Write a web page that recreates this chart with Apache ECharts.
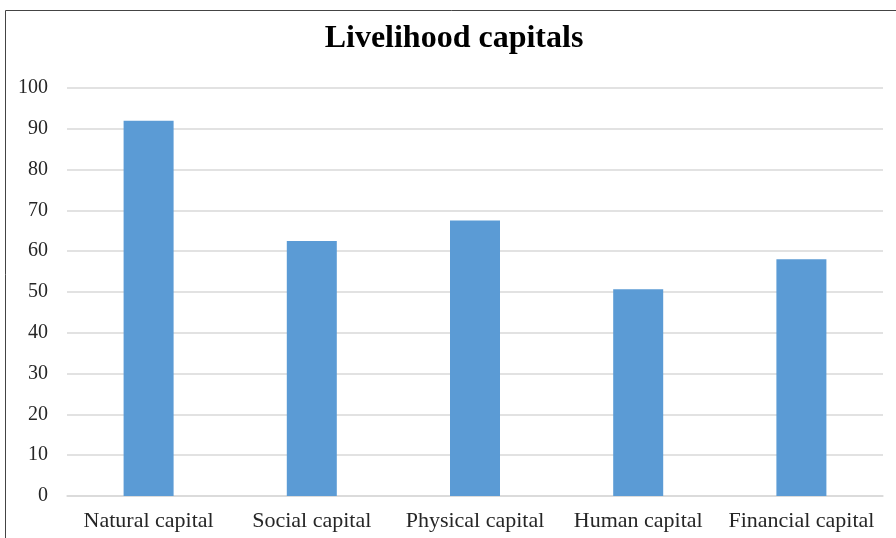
<!DOCTYPE html>
<html>
<head>
<meta charset="utf-8">
<script src="https://cdn.jsdelivr.net/npm/echarts@6/dist/echarts.min.js"></script>
<style>html,body{margin:0;padding:0;background:#fff;}#c{width:896px;height:538px;}</style>
</head>
<body>
<div id="c"></div>
<script>
var titleText = 'Livelihood capitals';
var categories = ['Natural capital', 'Social capital', 'Physical capital', 'Human capital', 'Financial capital'];
var values = [92, 62.5, 67.5, 50.7, 58];
var yMin = 0, yMax = 100, yInterval = 10;

var chart = echarts.init(document.getElementById('c'), null, {renderer: 'canvas'});
chart.setOption({
  animation: false,
  backgroundColor: '#fff',
  graphic: [{
    type: 'rect',
    shape: {x: 5.5, y: 10.5, width: 900, height: 600},
    style: {fill: 'none', stroke: '#444', lineWidth: 1},
    silent: true
  }],
  title: {
    text: titleText,
    left: 449,
    textAlign: 'center',
    top: 18,
    textStyle: {fontFamily: 'Liberation Serif', fontWeight: 'bold', fontSize: 32, color: '#000'}
  },
  grid: {left: 67, right: 13, top: 88, bottom: 42},
  xAxis: {
    type: 'category',
    data: categories,
    axisLine: {show: true, lineStyle: {color: '#d9d9d9', width: 1.5}},
    axisTick: {show: false},
    axisLabel: {fontFamily: 'Liberation Serif', fontSize: 22, color: '#262626', margin: 14, interval: 0}
  },
  yAxis: {
    type: 'value',
    min: yMin, max: yMax, interval: yInterval,
    axisLine: {show: false},
    axisTick: {show: false},
    splitLine: {lineStyle: {color: '#d9d9d9', width: 1.5}},
    axisLabel: {fontFamily: 'Liberation Serif', fontSize: 20, color: '#262626', margin: 19}
  },
  series: [{
    type: 'bar',
    data: values,
    barWidth: 50,
    itemStyle: {color: '#5b9bd5'}
  }]
});
</script>
</body>
</html>
